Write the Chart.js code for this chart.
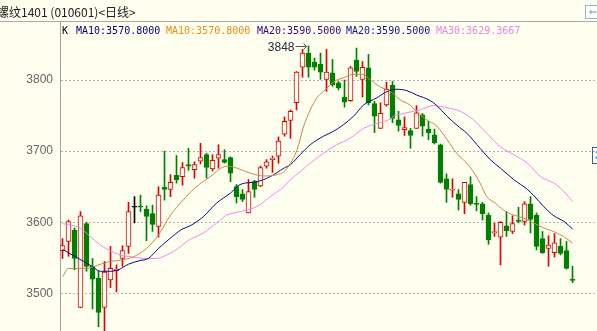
<!DOCTYPE html>
<html>
<head>
<meta charset="utf-8">
<script src="https://cdn.jsdelivr.net/npm/chart.js@4"></script>
<style>
html, body { margin: 0; padding: 0; background: #fffff0; overflow: hidden; }
#wrap { position: relative; width: 597px; height: 331px; }
#kline { position: absolute; left: 0; top: 0; }
.t { position: absolute; white-space: pre; }
.title { left: -3px; top: 5px; font: 12px/14px "Noto Sans CJK SC"; color: #222; }
.ma { top: 25px; font: 10px/12px "DejaVu Sans Mono"; }
.icon1 { left: 585px; top: 5px; width: 14px; height: 12px; border: 1px solid #8fb0de; color: #6f95d0; font: 10px/12px "DejaVu Sans"; text-align: center; }
.icon2 { left: 592px; top: 147px; width: 12px; height: 15px; border: 1px solid #2d5fc4; color: #2d5fc4; font: 11px/15px "Liberation Sans"; padding-left: 2px; }
</style>
</head>
<body>
<div id="wrap">
<canvas id="kline" width="597" height="331"></canvas>
<div class="t title">螺纹1401 (010601)&lt;日线&gt;</div>
<div class="t ma" style="left:62px;color:#000">K</div>
<div class="t ma" style="left:76px;color:#000080">MA10:3570.8000</div>
<div class="t ma" style="left:166px;color:#ee8c10">MA10:3570.8000</div>
<div class="t ma" style="left:257px;color:#3c0070">MA20:3590.5000</div>
<div class="t ma" style="left:346px;color:#10109c">MA20:3590.5000</div>
<div class="t ma" style="left:436px;color:#e686e6">MA30:3629.3667</div>
<div class="t icon1">⇐</div>
<div class="t icon2">3</div>
</div>
<script>
// 日K数据 (开 高 低 收)
const candleOpen  = [3560,3573,3589,3480,3598,3538,3521,3480,3519,3532,3549,3566,3621,3623,3618,3612,3594,3649,3646,3666,
                     3664,3681,3674,3686,3695,3675,3690,3688,3691,3650,3640,3613,3657,3651,3679,3688,3693,3724,3743,3768,
                     3818,3838,3825,3822,3801,3810,3796,3776,3771,3828,3801,3817,3767,3732,3765,3793,3744,3730,3729,3732,
                     3751,3731,3723,3709,3661,3645,3640,3628,3653,3627,3626,3610,3585,3579,3595,3587,3603,3601,3626,3610,
                     3577,3563,3557,3566,3560,3520];
const candleHigh  = [3577,3603,3592,3615,3600,3549,3531,3545,3566,3540,3567,3628,3636,3638,3623,3624,3650,3700,3667,3694,
                     3684,3704,3685,3711,3697,3695,3709,3702,3692,3653,3646,3660,3659,3679,3688,3693,3720,3748,3758,3812,
                     3843,3848,3831,3838,3843,3829,3798,3800,3819,3845,3826,3836,3770,3768,3797,3798,3756,3748,3732,3764,
                     3753,3742,3731,3710,3668,3661,3646,3656,3664,3636,3628,3613,3599,3601,3615,3609,3621,3629,3636,3613,
                     3587,3581,3584,3577,3573,3538];
const candleLow   = [3549,3552,3533,3480,3531,3478,3453,3440,3508,3502,3538,3556,3599,3615,3574,3587,3579,3631,3636,3655,
                     3652,3673,3662,3682,3662,3672,3676,3683,3657,3627,3629,3613,3635,3650,3676,3670,3683,3721,3718,3758,
                     3804,3804,3814,3801,3784,3791,3786,3762,3770,3805,3776,3765,3726,3732,3763,3740,3728,3722,3704,3732,
                     3721,3716,3710,3655,3628,3635,3617,3612,3624,3616,3603,3569,3580,3540,3580,3584,3599,3596,3585,3561,
                     3556,3538,3551,3554,3534,3515];
const candleClose = [3567,3601,3549,3609,3538,3520,3473,3530,3535,3534,3560,3615,3621,3621,3608,3597,3638,3646,3656,3660,
                     3677,3679,3681,3691,3677,3687,3695,3684,3669,3636,3632,3643,3646,3677,3685,3690,3714,3742,3756,3811,
                     3838,3818,3818,3811,3811,3793,3789,3769,3817,3812,3818,3768,3749,3753,3787,3746,3736,3733,3722,3754,
                     3735,3726,3712,3656,3646,3646,3632,3656,3626,3625,3612,3575,3587,3600,3588,3598,3601,3626,3604,3566,
                     3557,3568,3571,3556,3535,3518];

// 均线 [K线序号, 值]
const ma10 = [[0,3523],[1,3535],[4,3535],[6,3540],[8,3545],[10,3547],[12,3552],[14,3563],[16,3582],[18,3610],
              [20,3630],[21.3,3642],[22.9,3654],[24.6,3664],[27.4,3679],[29.1,3676],[31.3,3669],[33.6,3665],[35.8,3667],
              [36.9,3671],[38,3683],[39.1,3702],[40.2,3735],[41.3,3758],[42.4,3775],[43.5,3784],[44.6,3793],[45.7,3800],
              [46.8,3803],[48.4,3808],[50.1,3808],[51.2,3801],[52.8,3791],[54.6,3784],[56.3,3772],[57.9,3765],[59,3756],
              [60.7,3744],[62.4,3735],[64.1,3716],[65.7,3697],[67.9,3678],[69.6,3655],[70.7,3636],[72.1,3627],[73.5,3617],
              [75.2,3610],[76.8,3606],[78.5,3599],[80.2,3592],[81.8,3587],[83.5,3580],[85,3570.8]];
const ma20 = [[0,3562],[1.8,3553],[3.5,3545],[4.9,3538],[6.3,3531],[7.9,3531],[9.3,3533],[11,3541],[12.9,3546],
              [14.3,3549],[16,3563],[17.9,3577],[19.9,3590],[21.3,3595],[22.9,3604],[23.5,3608],[25.7,3627],[28,3641],
              [29.6,3653],[32.4,3657],[34.6,3664],[36.9,3676],[38,3681],[39.6,3695],[41.3,3709],[43.5,3721],[45.2,3728],
              [46.8,3737],[48.5,3749],[50.2,3765],[52.4,3775],[54.1,3784],[55.7,3787],[57.4,3785],[59,3779],[61.3,3771],
              [62.4,3764],[64.1,3749],[65.8,3736],[67.4,3725],[69.6,3704],[71.3,3688],[73,3676],[75.2,3660],[77.5,3646],
              [78.6,3637],[80.2,3622],[81.9,3609],[83.6,3601],[85,3590.5]];
const ma30 = [[0,3598],[1.3,3596],[2.9,3592],[4.6,3580],[6.3,3568],[7.9,3560],[9.6,3554],[11.8,3551],[13.5,3549],
              [15.7,3549],[17.4,3554],[19.1,3562],[20.7,3573],[21.3,3576],[23.5,3585],[25.7,3599],[27.4,3610],[29.6,3615],
              [32.4,3622],[34.6,3636],[36.9,3650],[38,3660],[39.6,3671],[41.3,3683],[43.5,3697],[45.7,3709],[47.9,3718],
              [50.2,3732],[52.4,3739],[54.6,3745],[55.2,3749],[57.4,3754],[59.6,3758],[61.8,3764],[64.1,3761],[66.3,3756],
              [68.5,3744],[70.7,3725],[73,3706],[75.2,3695],[77.5,3683],[79.7,3664],[81.9,3655],[83.6,3643],[85,3629.4]];

const yTicks = [3500, 3600, 3700, 3800];

const BG = '#fffff0';
const UP = '#e00000';
const DOWN = '#008000';

function candleColor(i) {
  if (candleClose[i] > candleOpen[i]) return UP;
  if (candleClose[i] < candleOpen[i]) return DOWN;
  return '#000000';
}

const bodies = candleOpen.map((o, i) => ({ x: i, y: [o, candleClose[i]] }));
const wicks = candleOpen.map((o, i) => ({ x: i, y: [candleLow[i], candleHigh[i]] }));
const colors = candleOpen.map((o, i) => candleColor(i));
const fills = candleOpen.map((o, i) => colors[i] === UP ? BG : colors[i]);

const highest = Math.max(...candleHigh);
const highestAt = candleHigh.indexOf(highest);

const toPts = arr => arr.map(p => ({ x: p[0], y: p[1] }));

// 顶部分隔线
const frame = {
  id: 'frame',
  afterDraw(chart) {
    const ctx = chart.ctx;
    ctx.save();
    ctx.strokeStyle = '#a8a8a8';
    ctx.lineWidth = 1;
    ctx.beginPath();
    ctx.moveTo(0, 21.5);
    ctx.lineTo(597, 21.5);
    ctx.stroke();
    ctx.restore();
  }
};

// 最高价标注
const peakMark = {
  id: 'peakMark',
  afterDatasetsDraw(chart) {
    const ctx = chart.ctx;
    const px = chart.scales.x.getPixelForValue(highestAt);
    const py = Math.round(chart.scales.y.getPixelForValue(highest)) + 0.5;
    ctx.save();
    ctx.font = '12px "Liberation Sans"';
    ctx.fillStyle = '#2a2a3a';
    ctx.textAlign = 'right';
    ctx.textBaseline = 'middle';
    ctx.fillText(String(highest), px - 14, py + 1);
    ctx.strokeStyle = '#555';
    ctx.lineWidth = 1;
    ctx.beginPath();
    ctx.moveTo(px - 13, py);
    ctx.lineTo(px - 2, py);
    ctx.moveTo(px - 5, py - 3);
    ctx.lineTo(px - 2, py);
    ctx.lineTo(px - 5, py + 3);
    ctx.stroke();
    ctx.restore();
  }
};

new Chart(document.getElementById('kline'), {
  type: 'bar',
  data: {
    datasets: [
      { type: 'line', label: 'MA10', data: toPts(ma10), borderColor: '#c8864a', borderWidth: 1,
        pointRadius: 0, cubicInterpolationMode: 'monotone', order: 0 },
      { type: 'line', label: 'MA20', data: toPts(ma20), borderColor: '#0a0a80', borderWidth: 1,
        pointRadius: 0, cubicInterpolationMode: 'monotone', order: 0 },
      { type: 'line', label: 'MA30', data: toPts(ma30), borderColor: '#ee88ee', borderWidth: 1,
        pointRadius: 0, cubicInterpolationMode: 'monotone', order: 0 },
      { label: 'body', data: bodies, backgroundColor: fills, borderColor: colors, borderWidth: 1,
        borderSkipped: false, barThickness: 5, minBarLength: 1, grouped: false, order: 1 },
      { label: 'wick', data: wicks, backgroundColor: colors, borderWidth: 0,
        barThickness: 1, grouped: false, order: 2 }
    ]
  },
  options: {
    responsive: false,
    animation: false,
    events: [],
    layout: { padding: { top: 22, left: 0, right: 0, bottom: 0 } },
    plugins: { legend: { display: false }, tooltip: { enabled: false } },
    scales: {
      x: { type: 'linear', display: false, offset: false, min: -0.41667, max: 89.08333,
           grid: { offset: false } },
      y: {
        min: 3447, max: 3881.6,
        afterBuildTicks: s => { s.ticks = yTicks.map(v => ({ value: v })); },
        afterFit: s => { s.width = 60; s.paddingTop = 0; s.paddingBottom = 0; },
        ticks: { color: '#666', font: { family: 'Liberation Sans', size: 12 }, padding: 7,
                 callback: v => String(v) },
        grid: { color: '#b4b4b4', drawTicks: false, lineWidth: 1 },
        border: { display: true, color: '#a0a0a0', dash: [2, 2] }
      }
    }
  },
  plugins: [frame, peakMark]
});
</script>
</body>
</html>
